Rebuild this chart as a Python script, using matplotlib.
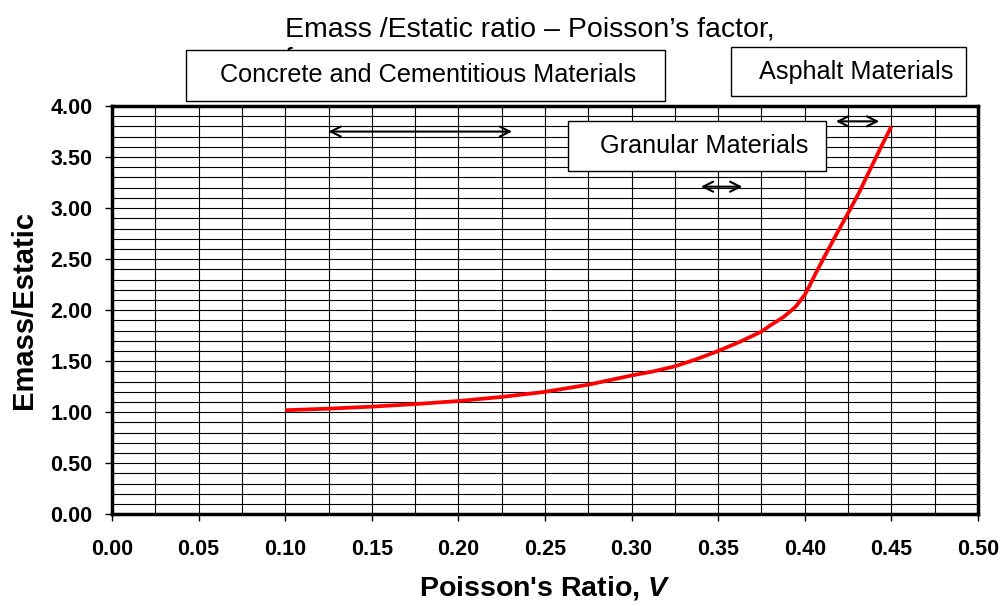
import matplotlib.pyplot as plt
from matplotlib.ticker import MultipleLocator, FormatStrFormatter

plt.rcParams['font.family'] = ['Liberation Sans', 'DejaVu Sans']
plt.rcParams['mathtext.fontset'] = 'custom'
plt.rcParams['mathtext.bf'] = 'Liberation Sans:italic:bold'

# Poisson's ratio vs Emass/Estatic
poisson = [0.10, 0.125, 0.15, 0.175, 0.20, 0.225, 0.25, 0.275, 0.30, 0.3125,
           0.325, 0.3375, 0.35, 0.3625, 0.375, 0.38, 0.3875, 0.3925, 0.395,
           0.40, 0.4031, 0.4063, 0.4125, 0.4188, 0.425, 0.4313, 0.4375,
           0.4438, 0.45]
ratio = [1.02, 1.035, 1.055, 1.08, 1.11, 1.15, 1.20, 1.27, 1.36, 1.40,
         1.45, 1.52, 1.60, 1.69, 1.79, 1.85, 1.93, 2.00, 2.04,
         2.15, 2.25, 2.36, 2.56, 2.76, 2.95, 3.15, 3.37,
         3.59, 3.80]

# material ranges
range_labels = ['Concrete and Cementitious Materials', 'Granular Materials', 'Asphalt Materials']
range_start = [0.125, 0.34, 0.418]
range_end = [0.231, 0.364, 0.443]
range_level = [3.75, 3.21, 3.85]

fig = plt.figure(figsize=(10.03, 6.06), dpi=100)
ax = fig.add_axes([0.1117, 0.1513, 0.8633, 0.6737])

ax.plot(poisson, ratio, color='red', lw=2.7, zorder=3,
        solid_joinstyle='round', solid_capstyle='butt')

ax.set_xlim(0, 0.5)
ax.set_ylim(0, 4)
ax.xaxis.set_major_locator(MultipleLocator(0.05))
ax.xaxis.set_minor_locator(MultipleLocator(0.025))
ax.yaxis.set_major_locator(MultipleLocator(0.5))
ax.yaxis.set_minor_locator(MultipleLocator(0.1))
ax.xaxis.set_major_formatter(FormatStrFormatter('%.2f'))
ax.yaxis.set_major_formatter(FormatStrFormatter('%.2f'))
ax.grid(which='both', color='black', lw=0.8)
ax.tick_params(which='major', length=5, width=1, labelsize=15.5)
ax.tick_params(which='minor', length=0)
ax.tick_params(axis='x', pad=13)
ax.tick_params(axis='y', pad=9)
for lab in ax.get_xticklabels() + ax.get_yticklabels():
    lab.set_fontweight('bold')
for sp in ax.spines.values():
    sp.set_linewidth(2.5)

ax.set_xlabel("Poisson's Ratio, $\\mathbf{V}$", fontsize=20.5, fontweight='bold', labelpad=10)
ax.set_ylabel('Emass/Estatic', fontsize=21, fontweight='bold', labelpad=9)

# title, second line sits behind the concrete box
fig.text(285 / 1003, 1 - 30 / 606, "Emass /Estatic ratio \u2013 Poisson\u2019s factor,",
         fontsize=20.5, ha='left', va='center', zorder=1)
fig.text(285 / 1003, 1 - 60 / 606, "f", fontsize=20.5, ha='left', va='center', zorder=1)

# range arrows
for x0, x1, y in zip(range_start, range_end, range_level):
    ax.annotate('', xy=(x0, y), xytext=(x1, y),
                arrowprops=dict(arrowstyle='<->', color='black', lw=1.5,
                                mutation_scale=18, shrinkA=0, shrinkB=0),
                annotation_clip=False, zorder=4)

# boxes with the material names (figure pixel coordinates)
box_xy = [(186, 50, 665, 101), (568, 121, 826, 171), (731, 47, 966, 96)]
text_x = [428, 704, 856]
for lab, (l, t, r, b), tx in zip(range_labels, box_xy, text_x):
    rect = plt.Rectangle((l / 1003, 1 - b / 606), (r - l) / 1003, (b - t) / 606,
                         transform=fig.transFigure, facecolor='white',
                         edgecolor='black', lw=1.0, zorder=5)
    fig.add_artist(rect)
    fig.text(tx / 1003, 1 - (t + b) / 2 / 606, lab, fontsize=18.2,
             ha='center', va='center', zorder=6)

fig.savefig('out.png', dpi=100)
